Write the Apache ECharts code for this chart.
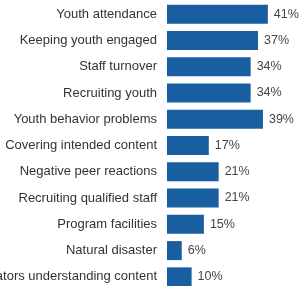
<!DOCTYPE html>
<html lang="en">
<head>
    <meta charset="UTF-8">
    <title>Challenges</title>
    <script src="https://cdn.jsdelivr.net/npm/echarts@6/dist/echarts.min.js"></script>
</head>
<body style="margin:0;background:#fff">
<div id="container" style="width:299px;height:286px"></div>
<script type="text/javascript">
    // categories, top to bottom
    let categories = [
        'Youth attendance',
        'Keeping youth engaged',
        'Staff turnover',
        'Recruiting youth',
        'Youth behavior problems',
        'Covering intended content',
        'Negative peer reactions',
        'Recruiting qualified staff',
        'Program facilities',
        'Natural disaster',
        'Facilitators understanding content'
    ];
    let values = [41, 37, 34, 34, 39, 17, 21, 21, 15, 6, 10];

    let myChart = echarts.init(document.getElementById('container'));
    let option = {
        animation: false,
        grid: {
            left: 167,
            right: 9,
            top: 1,
            height: 289,
            containLabel: false,
            outerBoundsMode: 'none'
        },
        xAxis: {
            type: 'value',
            min: 0,
            max: 50,
            show: false
        },
        yAxis: {
            type: 'category',
            inverse: true,
            data: categories,
            axisLine: {show: false},
            axisTick: {show: false},
            axisLabel: {
                margin: 10,
                color: '#333',
                fontFamily: 'Liberation Sans',
                fontSize: 13
            }
        },
        series: [{
            type: 'bar',
            data: values,
            barWidth: 19,
            itemStyle: {color: '#1a5ea2'},
            label: {
                show: true,
                position: 'right',
                distance: 6,
                formatter: '{c}%',
                color: '#444',
                fontFamily: 'Liberation Sans',
                fontSize: 12.5
            }
        }]
    };
    myChart.setOption(option);
</script>
</body>
</html>
